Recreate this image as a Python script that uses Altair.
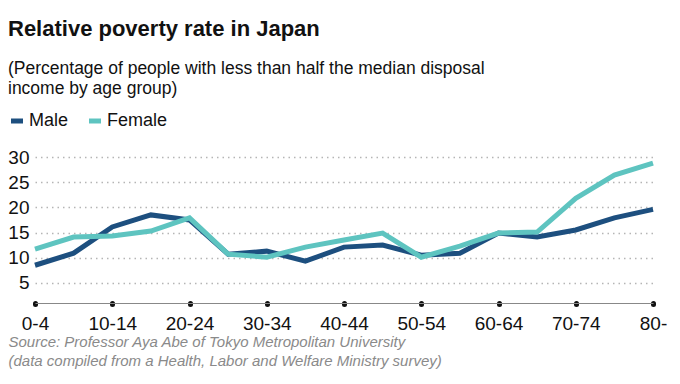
import altair as alt
import pandas as pd

ages = ["0-4", "5-9", "10-14", "15-19", "20-24", "25-29", "30-34", "35-39",
        "40-44", "45-49", "50-54", "55-59", "60-64", "65-69", "70-74", "75-79", "80-"]
male = [8.5, 10.9, 16.1, 18.5, 17.5, 10.7, 11.3, 9.3, 12.1, 12.5, 10.5, 10.9,
        14.9, 14.1, 15.5, 17.9, 19.6]
female = [11.7, 14.1, 14.3, 15.3, 17.9, 10.7, 10.1, 12.1, 13.5, 14.9, 10.1, 12.3,
          14.9, 15.1, 21.8, 26.4, 28.8]
series = ["Male", "Female"]
colors = ["#1d4f7f", "#5ec4c0"]
y_ticks = [5, 10, 15, 20, 25, 30]
x_labels = ages[::2]

rows = []
for i, a in enumerate(ages):
    rows.append({"age": a, "sex": "Male", "rate": male[i]})
    rows.append({"age": a, "sex": "Female", "rate": female[i]})
df = pd.DataFrame(rows)

FONT = "Liberation Sans"

chart = alt.Chart(df).mark_line(strokeWidth=5, strokeJoin="miter").encode(
    x=alt.X("age:N", sort=ages,
            scale=alt.Scale(type="point", padding=0),
            axis=alt.Axis(
                values=x_labels, labelAngle=0, labelFontSize=19, labelColor="#111",
                labelPadding=10, labelFont=FONT,
                domainColor="#888", domainWidth=1.2,
                tickSize=1, tickWidth=5, tickCap="round", tickColor="#111",
                grid=False,
                title=["Source: Professor Aya Abe of Tokyo Metropolitan University",
                       "(data compiled from a Health, Labor and Welfare Ministry survey)"],
                titleFont=FONT, titleFontSize=15, titleFontStyle="italic",
                titleFontWeight="normal", titleColor="#8a8a8a",
                titleAnchor="start", titleAlign="left", titleBaseline="alphabetic",
                titleX=-27, titleY=43, titleLineHeight=19)),
    y=alt.Y("rate:Q", scale=alt.Scale(domain=[1, 30], nice=False, zero=False),
            axis=alt.Axis(values=y_ticks, domain=False, ticks=False, title=None,
                          labelFontSize=19, labelColor="#111", labelFont=FONT,
                          labelPadding=6, grid=True, gridDash=[1.5, 4],
                          gridColor="#b5b5b5", gridWidth=1.5)),
    color=alt.Color("sex:N", sort=series,
                    scale=alt.Scale(domain=series, range=colors),
                    legend=alt.Legend(title=None, orient="none", direction="horizontal",
                                      legendX=-27, legendY=-45, padding=0,
                                      symbolType="stroke", symbolStrokeWidth=5,
                                      symbolSize=144, labelFontSize=18,
                                      labelFont=FONT, labelColor="#111",
                                      columnPadding=10, labelOffset=3)),
).properties(
    width=618, height=146,
    title=alt.TitleParams(
        text="Relative poverty rate in Japan",
        subtitle=["(Percentage of people with less than half the median disposal",
                  " income by age group)"],
        anchor="start", frame="group", dx=-27, offset=14,
        font=FONT, fontSize=22, fontWeight="bold", color="#111",
        subtitleFont=FONT, subtitleFontSize=17.5, subtitleColor="#111",
        subtitleLineHeight=20, subtitlePadding=19),
    autosize=alt.AutoSizeParams(type="none"),
    padding={"left": 27, "top": 149, "right": 19, "bottom": 73},
).configure_view(stroke=None)

chart.save("out.html", embed_options={"renderer": "svg", "actions": False})
